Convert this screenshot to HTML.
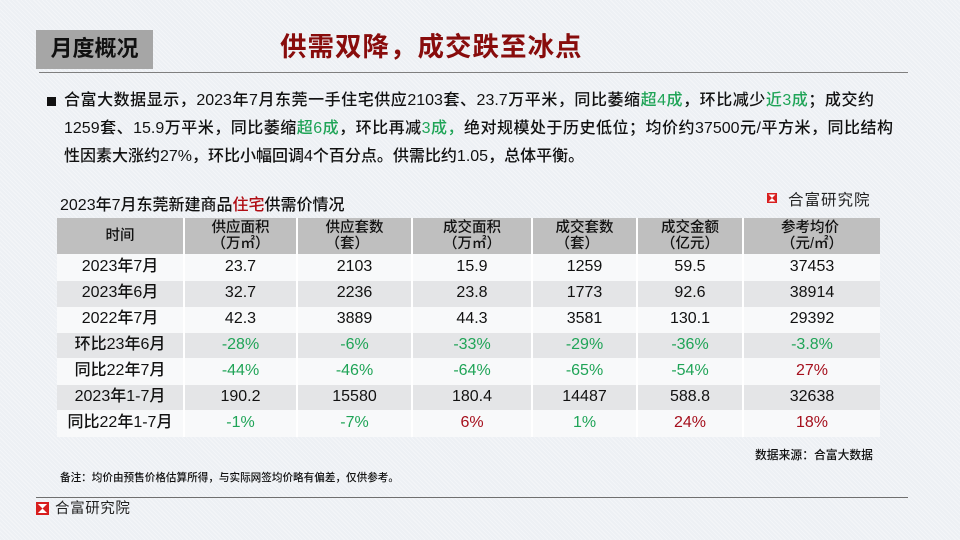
<!DOCTYPE html>
<html><head><meta charset="utf-8">
<style>
*{margin:0;padding:0;box-sizing:border-box}
body{width:960px;height:540px;overflow:hidden;background:#edf0f4;font-family:"Liberation Sans","Noto Sans CJK SC",sans-serif;color:#111;position:relative}
.bg{position:absolute;left:0;top:0;width:960px;height:540px;background:repeating-linear-gradient(45deg,rgba(255,255,255,0.35) 0 1px,rgba(0,0,0,0) 1px 3px)}
.abs{position:absolute;white-space:nowrap}
.g{color:#1fa457}
.r{color:#a50f1c}
.row{position:absolute;left:57px;width:823px;display:flex}
.row div{display:flex;align-items:center;justify-content:center;border-right:2px solid #fff;font-size:16px;font-weight:500;height:100%;line-height:18px;padding-bottom:2px}
.row div:last-child{border-right:none}
.w{background:#f8f9fa}
.gr{background:#e4e5e7}
.hd{background:#bfbfbf}
.hd div{flex-direction:column;font-size:14.5px;line-height:16px;padding-bottom:0}
.c1{width:128px}.c2{width:113px}.c3{width:115px}.c4{width:120px}.c5{width:105px}.c6{width:106px}.c7{width:136px}
.para{position:absolute;left:64px;font-size:16px;font-weight:500;line-height:20px;white-space:nowrap}
.just{text-align:justify;text-align-last:justify;white-space:normal}
</style></head><body>
<div class="bg"></div>

<div class="abs" style="left:36px;top:30px;width:117px;height:39px;background:#a6a6a6"></div>
<div class="abs" style="left:36px;top:30px;width:117px;height:39px;line-height:38px;text-align:center;font-size:22px;font-weight:bold;color:#111">月度概况</div>
<div class="abs" style="left:280px;top:30px;font-size:26.5px;line-height:34px;font-weight:bold;color:#880c0c;letter-spacing:1px">供需双降，成交跌至冰点</div>
<div class="abs" style="left:39px;top:72px;width:869px;height:1px;background:#7f7f7f"></div>

<div class="abs" style="left:47px;top:97px;width:9px;height:9px;background:#111"></div>
<div class="para just" style="top:91px;width:810px">合富大数据显示，2023年7月东莞一手住宅供应2103套、23.7万平米，同比萎缩<span class="g">超4成</span>，环比减少<span class="g">近3成</span>；成交约</div>
<div class="para just" style="top:119px;width:829px">1259套、15.9万平米，同比萎缩<span class="g">超6成</span>，环比再减<span class="g">3成，</span>绝对规模处于历史低位；均价约37500元/平方米，同比结构</div>
<div class="para" style="top:147px">性因素大涨约27%，环比小幅回调4个百分点。供需比约1.05，总体平衡。</div>

<div class="abs" style="left:60px;top:195px;font-size:16px;font-weight:500;line-height:22px">2023年7月东莞新建商品<span style="color:#b00d14">住宅</span>供需价情况</div>

<svg class="abs" style="left:767px;top:193px" width="10" height="10" viewBox="0 0 10 10"><rect width="10" height="10" fill="#d81e1e"/><polygon points="1.5,1.5 8.5,1.5 5,5 8.5,8.5 1.5,8.5 5,5" fill="#fff"/></svg>
<div class="abs" style="left:788px;top:190px;font-size:15.5px;line-height:22px;letter-spacing:1px;color:#222">合富研究院</div>

<div class="row hd" style="top:218px;height:36px"><div class="c1">时间</div><div class="c2">供应面积<br>（万㎡）</div><div class="c3">供应套数<br>（套）</div><div class="c4">成交面积<br>（万㎡）</div><div class="c5">成交套数<br>（套）</div><div class="c6">成交金额<br>（亿元）</div><div class="c7">参考均价<br>（元/㎡）</div></div>
<div class="row w" style="top:254px;height:27px"><div class="c1">2023年7月</div><div class="c2">23.7</div><div class="c3">2103</div><div class="c4">15.9</div><div class="c5">1259</div><div class="c6">59.5</div><div class="c7">37453</div></div>
<div class="row gr" style="top:281px;height:26px"><div class="c1">2023年6月</div><div class="c2">32.7</div><div class="c3">2236</div><div class="c4">23.8</div><div class="c5">1773</div><div class="c6">92.6</div><div class="c7">38914</div></div>
<div class="row w" style="top:307px;height:26px"><div class="c1">2022年7月</div><div class="c2">42.3</div><div class="c3">3889</div><div class="c4">44.3</div><div class="c5">3581</div><div class="c6">130.1</div><div class="c7">29392</div></div>
<div class="row gr" style="top:333px;height:25px"><div class="c1">环比23年6月</div><div class="c2 g">-28%</div><div class="c3 g">-6%</div><div class="c4 g">-33%</div><div class="c5 g">-29%</div><div class="c6 g">-36%</div><div class="c7 g">-3.8%</div></div>
<div class="row w" style="top:358px;height:27px"><div class="c1">同比22年7月</div><div class="c2 g">-44%</div><div class="c3 g">-46%</div><div class="c4 g">-64%</div><div class="c5 g">-65%</div><div class="c6 g">-54%</div><div class="c7 r">27%</div></div>
<div class="row gr" style="top:385px;height:25px"><div class="c1">2023年1-7月</div><div class="c2">190.2</div><div class="c3">15580</div><div class="c4">180.4</div><div class="c5">14487</div><div class="c6">588.8</div><div class="c7">32638</div></div>
<div class="row w" style="top:410px;height:27px"><div class="c1">同比22年1-7月</div><div class="c2 g">-1%</div><div class="c3 g">-7%</div><div class="c4 r">6%</div><div class="c5 g">1%</div><div class="c6 r">24%</div><div class="c7 r">18%</div></div>

<div class="abs" style="left:755px;top:447px;font-size:11.8px;line-height:16px;font-weight:500">数据来源：合富大数据</div>
<div class="abs" style="left:60px;top:471px;font-size:10.6px;line-height:15px;font-weight:500">备注：均价由预售价格估算所得，与实际网签均价略有偏差，仅供参考。</div>

<div class="abs" style="left:36px;top:497px;width:872px;height:1px;background:#6f6f6f"></div>
<svg class="abs" style="left:36px;top:502px" width="13" height="13" viewBox="0 0 10 10"><rect width="10" height="10" fill="#d81e1e"/><polygon points="1.5,1.5 8.5,1.5 5,5 8.5,8.5 1.5,8.5 5,5" fill="#fff"/></svg>
<div class="abs" style="left:55px;top:498px;font-size:14.5px;line-height:22px;letter-spacing:0.6px;color:#222">合富研究院</div>
</body></html>
